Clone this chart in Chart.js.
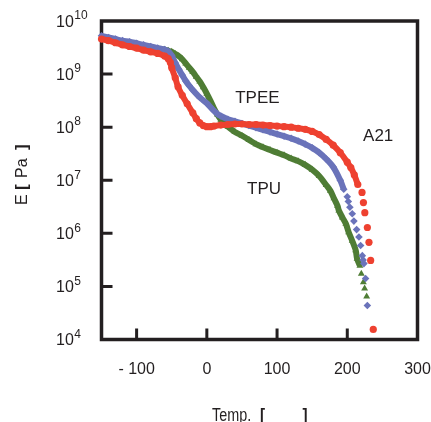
<!DOCTYPE html>
<html><head><meta charset="utf-8">
<style>html,body{margin:0;padding:0;background:#fff;}#wrap{width:431px;height:422px;}</style>
<script src="https://cdn.jsdelivr.net/npm/chart.js@4.4.1/dist/chart.umd.min.js"></script>
</head><body><div id="wrap"><canvas id="c" width="431" height="422"></canvas></div>
<script>
// ---- data (temperature in °C, modulus as log10(E / Pa)) ----
const xTicks = [-100, 0, 100, 200, 300];
const yTickExps = [4, 5, 6, 7, 8, 9, 10];

const a21T    = [-150,-140,-130,-120,-110,-100,-90,-80,-70,-60,-55,-52,-50,-45,-41,-35,-28,-20,-15,-10,-5,0,5,10,20,30,40,50,60,70,80,90,100,110,120,130,140,150,160,170,180,190,200,205,210,215];
const a21LogE = [9.66,9.63,9.59,9.55,9.52,9.49,9.45,9.42,9.39,9.34,9.29,9.22,9.12,8.93,8.76,8.60,8.44,8.27,8.16,8.08,8.03,8.01,8.01,8.02,8.04,8.05,8.06,8.06,8.05,8.05,8.04,8.03,8.02,8.01,8.00,7.98,7.96,7.92,7.86,7.77,7.66,7.52,7.34,7.24,7.10,6.92];
const a21TailT    = [221, 223, 225, 228.6, 230.9, 233.3, 237];
const a21TailLogE = [6.77, 6.58, 6.39, 6.11, 5.83, 5.49, 4.19];

const tpeeT    = [-150,-140,-130,-120,-110,-100,-90,-80,-70,-60,-55,-50,-45,-40,-35,-30,-25,-20,-10,0,5,10,15,20,30,40,50,60,70,80,90,100,110,120,130,140,150,160,170,180,190,195];
const tpeeLogE = [9.72,9.69,9.66,9.63,9.61,9.58,9.55,9.52,9.49,9.46,9.43,9.35,9.21,9.09,8.98,8.87,8.78,8.70,8.56,8.45,8.38,8.31,8.25,8.21,8.15,8.11,8.07,8.03,7.99,7.95,7.91,7.87,7.83,7.79,7.74,7.68,7.61,7.52,7.40,7.25,7.00,6.83];
const tpeeTailT    = [200, 201.5, 203.7, 207.1, 209.4, 213.3, 216.6, 219, 221.4, 222.5, 223.7, 226.1, 228.6];
const tpeeTailLogE = [6.69, 6.60, 6.49, 6.37, 6.23, 6.07, 5.93, 5.77, 5.58, 5.50, 5.43, 5.15, 4.64];

const tpuT    = [-150,-140,-120,-100,-80,-60,-55,-50,-45,-40,-35,-30,-25,-20,-15,-10,-5,0,5,10,15,20,25,30,40,50,60,70,80,90,100,110,120,130,140,150,160,170,176,181,186,188,193,198,202,207,212,214,218];
const tpuLogE = [9.68,9.65,9.60,9.55,9.50,9.46,9.44,9.42,9.38,9.34,9.28,9.20,9.12,9.04,8.95,8.86,8.75,8.63,8.50,8.36,8.24,8.14,8.06,8.01,7.91,7.84,7.76,7.68,7.62,7.57,7.52,7.47,7.41,7.36,7.29,7.20,7.08,6.91,6.80,6.66,6.52,6.43,6.30,6.18,6.02,5.86,5.68,5.52,5.39];
const tpuTailT    = [220, 222.9, 224.7, 227.6];
const tpuTailLogE = [5.24, 5.08, 4.96, 4.81];

const labels = [
  {text: 'TPEE', T: 72, logE: 8.54},
  {text: 'A21',  T: 244, logE: 7.82},
  {text: 'TPU',  T: 81.5, logE: 6.82}
];

// ---- styling ----
const ink = '#231f20';
const RED = '#ee4130', BLUE = '#6a73ba', GREEN = '#4f7d35';
const FONT = '"Liberation Sans", Arial, Helvetica, sans-serif';

const pts = (T, L) => T.map((t, i) => ({x: t, y: Math.pow(10, L[i])}));

function ds(label, T, L, color, style, line) {
  return {
    label, data: pts(T, L), showLine: line, clip: false,
    borderColor: color, backgroundColor: color, borderWidth: line ? 6 : 0,
    pointStyle: style, pointRadius: style === 'rectRot' ? 3.8 : (style === 'triangle' ? 4 : 3.6),
    pointBorderWidth: 0, pointBackgroundColor: color, tension: 0.3
  };
}

const decor = {
  id: 'decor',
  beforeDatasetsDraw(chart) {
    const {ctx, chartArea: a, scales: {x, y}} = chart;
    ctx.save();
    ctx.strokeStyle = ink;
    ctx.lineWidth = 3.5;
    ctx.strokeRect(a.left, a.top, a.right - a.left, a.bottom - a.top);
    ctx.lineWidth = 3;
    ctx.beginPath();
    xTicks.forEach(v => {
      if (v > x.min && v < x.max) { const p = x.getPixelForValue(v); ctx.moveTo(p, a.bottom); ctx.lineTo(p, a.bottom - 11); }
    });
    yTickExps.forEach(e => {
      const v = Math.pow(10, e);
      if (v > y.min && v < y.max) { const p = y.getPixelForValue(v); ctx.moveTo(a.left, p); ctx.lineTo(a.left + 11, p); }
    });
    ctx.stroke();
    ctx.restore();
  },
  afterDraw(chart) {
    const {ctx, chartArea: a, scales: {x, y}} = chart;
    ctx.save();
    ctx.fillStyle = ink;
    // y tick labels 10^n
    yTickExps.forEach(e => {
      const p = y.getPixelForValue(Math.pow(10, e));
      ctx.font = '16px ' + FONT;
      ctx.textAlign = 'left'; ctx.textBaseline = 'middle';
      ctx.fillText('10', 56, p + 1.5);
      const w = ctx.measureText('10').width;
      ctx.font = '12px ' + FONT;
      ctx.fillText(String(e), 56 + w + 0.5, p - 5);
    });
    // annotations
    ctx.font = '17px ' + FONT;
    ctx.textAlign = 'center'; ctx.textBaseline = 'middle';
    labels.forEach(l => ctx.fillText(l.text, x.getPixelForValue(l.T), y.getPixelForValue(Math.pow(10, l.logE))));
    // x title
    ctx.save();
    ctx.translate(212, 421);
    ctx.scale(0.8, 1);
    ctx.textAlign = 'left'; ctx.textBaseline = 'alphabetic';
    ctx.font = '18px ' + FONT;
    ctx.fillText('Temp.', 0, 0);
    ctx.font = 'bold 19px ' + FONT;
    ctx.fillText('[', 60, 0);
    ctx.fillText(']', 113, 0);
    ctx.restore();
    // y title
    ctx.save();
    ctx.translate(27, 205);
    ctx.rotate(-Math.PI / 2);
    ctx.textAlign = 'left'; ctx.textBaseline = 'alphabetic';
    ctx.font = '16px ' + FONT;
    ctx.fillText('E', 0, 0);
    ctx.font = 'bold 17px ' + FONT;
    ctx.fillText('[', 15, 0);
    ctx.font = '16px ' + FONT;
    ctx.fillText('Pa', 27, 0);
    ctx.font = 'bold 17px ' + FONT;
    ctx.fillText(']', 55, 0);
    ctx.restore();
    ctx.restore();
  }
};

new Chart(document.getElementById('c'), {
  type: 'scatter',
  data: {
    datasets: [
      ds('A21', a21T, a21LogE, RED, 'circle', true),
      ds('A21 tail', a21TailT, a21TailLogE, RED, 'circle', false),
      ds('TPEE', tpeeT, tpeeLogE, BLUE, 'rectRot', true),
      ds('TPEE tail', tpeeTailT, tpeeTailLogE, BLUE, 'rectRot', false),
      ds('TPU', tpuT, tpuLogE, GREEN, 'triangle', true),
      ds('TPU tail', tpuTailT, tpuTailLogE, GREEN, 'triangle', false)
    ]
  },
  options: {
    responsive: false, animation: false, devicePixelRatio: 1,
    layout: {padding: {top: 21, right: 13.5, left: 0, bottom: 0}},
    plugins: {legend: {display: false}, tooltip: {enabled: false}},
    scales: {
      x: {
        type: 'linear', min: -150, max: 300,
        afterBuildTicks: s => { s.ticks = xTicks.map(v => ({value: v})); },
        afterFit: s => { s.height = 82.5; s.paddingLeft = 0; s.paddingRight = 0; },
        grid: {display: false}, border: {display: false},
        ticks: {
          color: ink, font: {family: FONT, size: 16}, padding: 12, maxRotation: 0,
          callback: v => v < 0 ? '- ' + Math.abs(v) : String(v)
        }
      },
      y: {
        type: 'logarithmic', min: 1e4, max: 1e10,
        afterBuildTicks: s => { s.ticks = yTickExps.map(e => ({value: Math.pow(10, e)})); },
        afterFit: s => { s.width = 101.5; s.paddingTop = 0; s.paddingBottom = 0; },
        grid: {display: false}, border: {display: false},
        ticks: {display: false}
      }
    }
  },
  plugins: [decor]
});
</script>
</body></html>
